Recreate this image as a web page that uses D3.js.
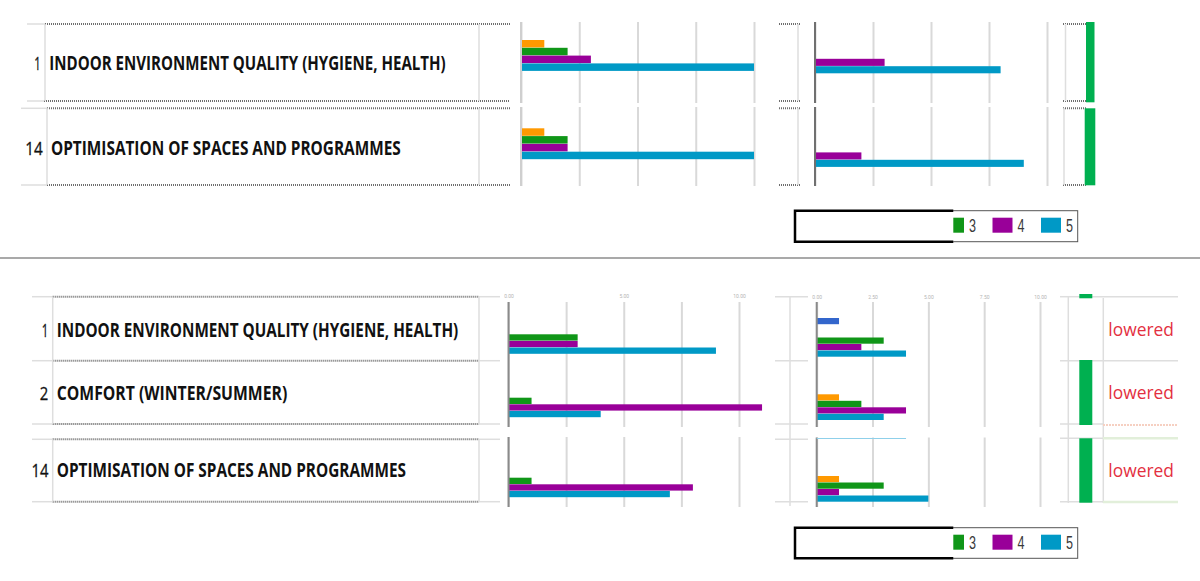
<!DOCTYPE html>
<html>
<head>
<meta charset="utf-8">
<script src="https://cdn.jsdelivr.net/npm/d3@7"></script>
<style>
  html, body { margin: 0; padding: 0; background: #fff; }
  svg { display: block; }
</style>
</head>
<body>
<svg id="chart" width="1200" height="581"></svg>
<script>
// ---------- DATA ----------
const SERIES = ["0", "1", "2", "3", "4", "5"];
const SERIES_COLORS = ["#3366cc", "#dc3912", "#ff9900", "#109618", "#990099", "#0099c6"];
const LEGEND_KEYS = ["3", "4", "5"];
const GRID_TICKS = [0, 2.5, 5, 7.5, 10];
const LABEL_TICKS_A = [0, 5, 10];
const LABEL_TICKS_B = [0, 2.5, 5, 7.5, 10];

// upper block (before)
const topNumbers = ["1", "14"];
const topCriteria = ["INDOOR ENVIRONMENT QUALITY (HYGIENE, HEALTH)", "OPTIMISATION OF SPACES AND PROGRAMMES"];
const topCountsA = [[0, 0, 1, 2, 3, 10], [0, 0, 1, 2, 2, 10]];   // counts per rating 0..5
const topCountsB = [[0, 0, 0, 0, 3, 8], [0, 0, 0, 0, 2, 9]];
const topIndicator = [1, 1];

// lower block (after)
const bottomNumbers = ["1", "2", "14"];
const bottomCriteria = ["INDOOR ENVIRONMENT QUALITY (HYGIENE, HEALTH)", "COMFORT (WINTER/SUMMER)", "OPTIMISATION OF SPACES AND PROGRAMMES"];
const bottomCountsA = [[0, 0, 0, 3, 3, 9], [0, 0, 0, 1, 11, 4], [0, 0, 0, 1, 8, 7]];
const bottomCountsB = [[1, 0, 0, 3, 2, 4], [0, 0, 1, 2, 4, 3], [0, 0, 1, 3, 1, 5]];
const bottomFragmentB = 4;           // cut-off bar seen at the top of the last row
const bottomIndicator = [0.065, 1, 1];
const bottomNotes = ["lowered", "lowered", "lowered"];

// ---------- SETUP ----------
const svg = d3.select("#chart");
const color = d3.scaleOrdinal(SERIES, SERIES_COLORS);
const LABEL_FONT = "'Liberation Sans Narrow', 'Open Sans', sans-serif";
const NUM_FONT = "'Open Sans', 'Liberation Sans', sans-serif";

const deco = svg.append("g").attr("class", "deco");
function hline(x1, x2, y, kind) {
  const l = deco.append("line").attr("x1", x1).attr("x2", x2).attr("y1", y).attr("y2", y);
  styleLine(l, kind);
}
function vline(x, y1, y2, kind) {
  const l = deco.append("line").attr("x1", x).attr("x2", x).attr("y1", y1).attr("y2", y2);
  styleLine(l, kind);
}
function styleLine(l, kind) {
  if (kind === "dot") l.attr("stroke", "#6e6e6e").attr("stroke-width", 2).attr("stroke-dasharray", "1,1");
  else if (kind === "orange") l.attr("stroke", "#f6d0c2").attr("stroke-width", 2).attr("stroke-dasharray", "2,1");
  else if (kind === "green") l.attr("stroke", "#e2efda").attr("stroke-width", 2.5);
  else l.attr("stroke", "#dedede").attr("stroke-width", 1.5);
}

// ---------- FRAME LINES ----------
// upper table
[[24, 45], [101, 44]].forEach(([y, x]) => { hline(27, x, y, "light"); hline(x, 510, y, "dot"); });
[[108.3, 47], [185, 47]].forEach(([y, x]) => { hline(21, x, y, "light"); hline(x, 510, y, "dot"); });
vline(45, 24, 101, "light"); vline(47, 108, 185, "light");
vline(479, 24, 101, "light"); vline(479, 108, 185, "light");
[24, 101, 108.3, 185].forEach(y => hline(779, 801, y, "dot"));
vline(798, 24, 101, "light"); vline(798, 108, 185, "light");
[24, 101, 108.3, 185].forEach(y => hline(1063, 1086, y, "dot"));
vline(1065.5, 24, 101, "light"); vline(1064, 108, 185, "light");

// separator
svg.append("line").attr("x1", 0).attr("x2", 1200).attr("y1", 258).attr("y2", 258)
  .attr("stroke", "#8c8c8c").attr("stroke-width", 1.5);

// lower table
[296.7, 360.7, 424, 439.3, 501.7].forEach(y => {
  hline(32, 52.7, y, "light"); hline(52.7, 479, y, "dot"); hline(479, 500, y, "light");
  hline(775, 808, y, "light");
});
vline(52.7, 296.7, 424, "light"); vline(52.7, 439.3, 501.7, "light");
vline(479, 296.7, 424, "light"); vline(479, 439.3, 501.7, "light");
vline(790, 296, 506, "light");
vline(1068.3, 296, 503, "light"); vline(1103.3, 298, 503, "light");
hline(1060, 1080, 296.7, "light"); hline(1092, 1178, 296.7, "light");
hline(1060, 1178, 360.7, "light");
hline(1060, 1103, 424, "light"); hline(1103, 1178, 425, "orange");
hline(1060, 1103, 438.3, "light"); hline(1103, 1178, 438.3, "green");
hline(1060, 1103, 501.7, "light"); hline(1103, 1178, 502, "green");

// ---------- TABLE TEXT ----------
function drawTable(numbers, criteria, geom) {
  const g = svg.append("g");
  numbers.forEach((n, i) => {
    const r = geom[i];
    g.append("text").attr("x", r.numRight).attr("y", r.base).attr("text-anchor", "end")
      .attr("font-family", NUM_FONT).attr("font-size", 19).attr("fill", "#111")
      .attr("stroke", "#111").attr("stroke-width", 0.3)
      .attr("textLength", r.numW).attr("lengthAdjust", "spacingAndGlyphs").text(n);
    g.append("text").attr("x", r.textX).attr("y", r.base)
      .attr("font-family", LABEL_FONT).attr("font-weight", "bold").attr("font-size", 19).attr("fill", "#111")
      .attr("textLength", r.textW).attr("lengthAdjust", "spacingAndGlyphs").text(criteria[i]);
  });
}
drawTable(topNumbers, topCriteria, [
  { numRight: 40.7, numW: 6.5, textX: 49.3, textW: 396.4, base: 70 },
  { numRight: 42.7, numW: 17.5, textX: 51, textW: 349.7, base: 155 }
]);
drawTable(bottomNumbers, bottomCriteria, [
  { numRight: 48.3, numW: 6.5, textX: 56.7, textW: 401.6, base: 336.7 },
  { numRight: 48.3, numW: 8.5, textX: 56.7, textW: 230.6, base: 400 },
  { numRight: 48.5, numW: 17, textX: 56.7, textW: 349.3, base: 477.3 }
]);

// ---------- BAR CHARTS ----------
function drawBars(cfg, counts) {
  const x = d3.scaleLinear().domain([0, 10]).range([cfg.x0, cfg.x10]);
  const g = svg.append("g");

  cfg.gridSegments.forEach(([y1, y2]) => {
    g.append("g").attr("transform", `translate(0,${y1})`)
      .call(d3.axisTop(x).tickValues(GRID_TICKS).tickSize(-(y2 - y1)).tickFormat(""))
      .call(a => a.select(".domain").remove())
      .call(a => a.selectAll(".tick line").attr("stroke", "#d9d9d9").attr("stroke-width", 2));
  });

  if (cfg.labels) {
    g.append("g").attr("transform", `translate(0,${cfg.labelY})`)
      .call(d3.axisTop(x).tickValues(cfg.labels).tickSize(0).tickPadding(0).tickFormat(d3.format(".2f")))
      .call(a => a.select(".domain").remove())
      .call(a => a.selectAll("text").attr("font-size", 5).attr("fill", "#b5b5b5").attr("font-family", "Roboto"));
  }

  counts.forEach((row, i) => {
    const y = d3.scaleBand().domain(SERIES)
      .range([cfg.groupTop[i], cfg.groupTop[i] + cfg.slot * SERIES.length]);
    g.selectAll(null)
      .data(SERIES.map((s, k) => ({ s, v: row[k] })).filter(d => d.v > 0))
      .join("rect")
      .attr("x", x(0))
      .attr("y", d => y(d.s))
      .attr("width", d => x(d.v) - x(0))
      .attr("height", y.bandwidth() - 0.3)
      .attr("fill", d => color(d.s));
  });

  cfg.gridSegments.forEach(([y1, y2]) => {
    g.append("line").attr("x1", x(0)).attr("x2", x(0)).attr("y1", y1).attr("y2", y2)
      .attr("stroke", cfg.axisColor).attr("stroke-width", 2);
  });
  return { g, x };
}

drawBars({ x0: 521, x10: 754, gridSegments: [[22, 103], [107, 186]], axisColor: "#cfcfcf",
  slot: 7.8, groupTop: [24.4, 112.7] }, topCountsA);
drawBars({ x0: 815, x10: 1047, gridSegments: [[22, 103], [107, 186]], axisColor: "#707070",
  slot: 7.4, groupTop: [29.2, 122.8] }, topCountsB);
drawBars({ x0: 508.5, x10: 739, gridSegments: [[302, 427], [437, 507]], axisColor: "#8a8a8a",
  slot: 6.6, groupTop: [314.5, 377.9, 457.9], labels: LABEL_TICKS_A, labelY: 297.5 }, bottomCountsA);
const lowerB = drawBars({ x0: 816.7, x10: 1040, gridSegments: [[302, 427], [437.5, 507]], axisColor: "#8a8a8a",
  slot: 6.5, groupTop: [318, 381.3, 463], labels: LABEL_TICKS_B, labelY: 299 }, bottomCountsB);
lowerB.g.append("line")
  .attr("x1", lowerB.x(0)).attr("x2", lowerB.x(bottomFragmentB)).attr("y1", 438.5).attr("y2", 438.5)
  .attr("stroke", "#8fd0ea").attr("stroke-width", 1.2);

// ---------- INDICATORS ----------
function drawIndicators(values, geom) {
  values.forEach((v, i) => {
    const r = geom[i];
    const h = d3.scaleLinear().domain([0, 1]).range([0, r.y2 - r.y1]);
    svg.append("rect").attr("x", r.x).attr("y", r.y1).attr("width", r.w).attr("height", h(v))
      .attr("fill", "#00b050");
  });
}
drawIndicators(topIndicator, [
  { x: 1086, w: 8.5, y1: 22, y2: 102.3 },
  { x: 1084.7, w: 10.6, y1: 108.3, y2: 185.3 }
]);
drawIndicators(bottomIndicator, [
  { x: 1079.3, w: 13, y1: 294, y2: 360 },
  { x: 1079.3, w: 13, y1: 360, y2: 425 },
  { x: 1079.3, w: 13, y1: 438.3, y2: 502.7 }
]);

// notes
[336, 399.3, 477.3].forEach((base, i) => {
  svg.append("text").attr("x", 1108.3).attr("y", base)
    .attr("font-family", "'Open Sans', sans-serif").attr("font-size", 19).attr("fill", "#e3303f")
    .attr("textLength", 65.7).attr("lengthAdjust", "spacingAndGlyphs").text(bottomNotes[i]);
});

// ---------- LEGENDS ----------
function drawLegend(top, bottom) {
  const g = svg.append("g");
  const left = 795, right = 1077.7, cut = 953.3;
  g.append("rect").attr("x", left).attr("y", top).attr("width", right - left).attr("height", bottom - top)
    .attr("fill", "#fff").attr("stroke", "#555").attr("stroke-width", 1);
  const lx = d3.scaleBand().domain(LEGEND_KEYS).range([944, 944 + 48.5 * LEGEND_KEYS.length]);
  const sw = { top: top + 7, h: 15 };
  g.selectAll(null).data(LEGEND_KEYS).join("rect")
    .attr("x", d => lx(d)).attr("y", sw.top).attr("width", 20).attr("height", sw.h)
    .attr("fill", d => color(d));
  g.selectAll(null).data(LEGEND_KEYS).join("text")
    .attr("x", d => lx(d) + 25).attr("y", sw.top + sw.h - 0.5)
    .attr("font-family", "'Liberation Sans Narrow', 'Liberation Sans', sans-serif").attr("font-size", 18).attr("fill", "#3a3a3a")
    .attr("textLength", 7).attr("lengthAdjust", "spacingAndGlyphs")
    .text(d => d);
  // pasted-over white block with heavy border
  g.append("rect").attr("x", left).attr("y", top).attr("width", cut - left).attr("height", bottom - top)
    .attr("fill", "#fff");
  g.append("path").attr("d", `M${cut},${top}H${left}V${bottom}H${cut}`)
    .attr("fill", "none").attr("stroke", "#000").attr("stroke-width", 2.5);
}
drawLegend(210.7, 241.7);
drawLegend(527.7, 558.3);
</script>
</body>
</html>
